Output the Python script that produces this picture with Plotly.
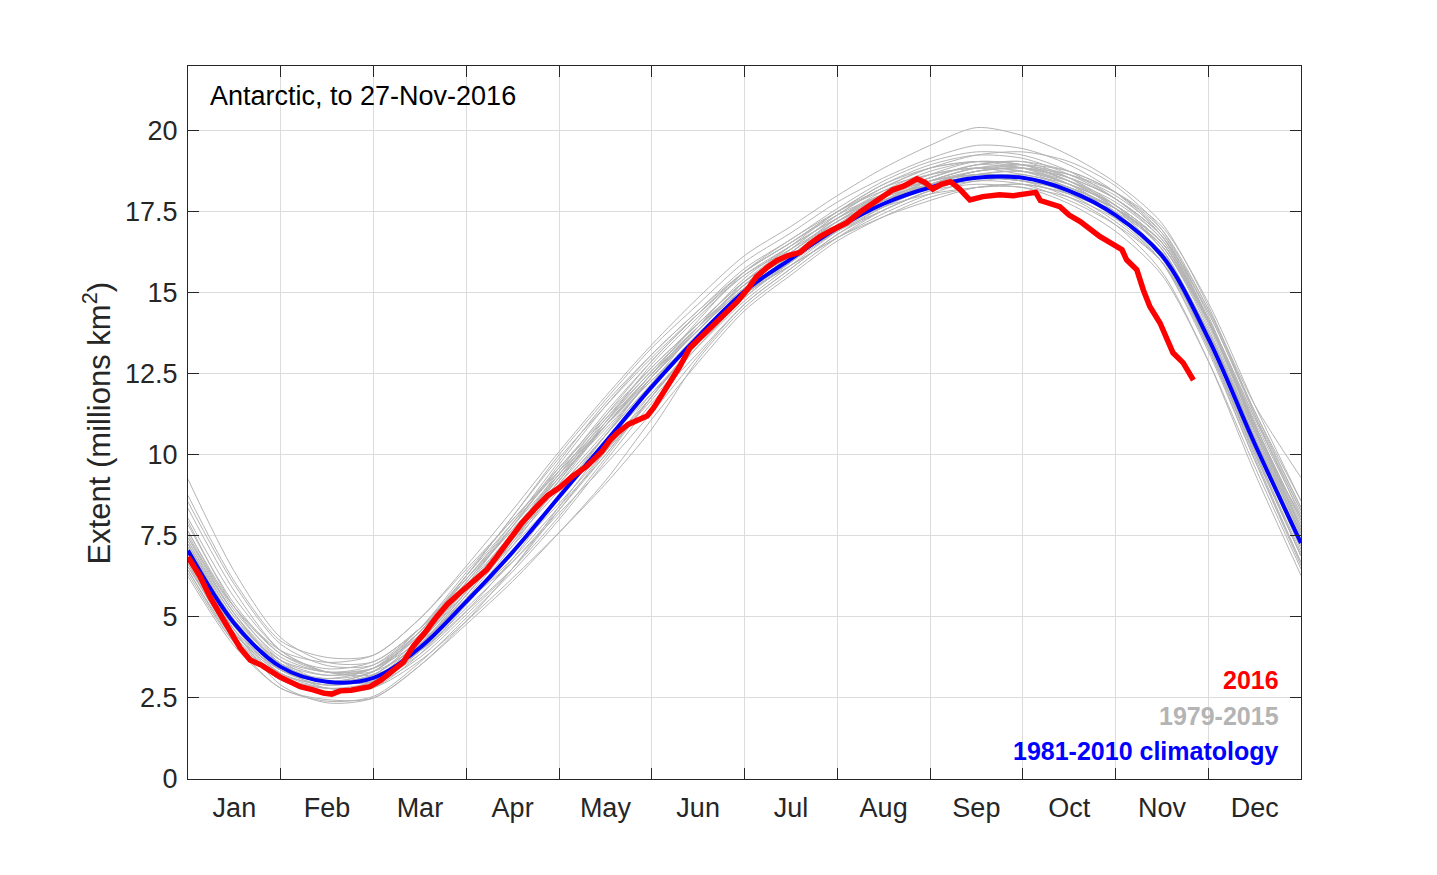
import plotly.graph_objects as go

# ---------------- data ----------------
MONTHS = ["Jan", "Feb", "Mar", "Apr", "May", "Jun", "Jul", "Aug", "Sep", "Oct", "Nov", "Dec"]
KNOT_X = [0, 0.5, 1, 1.5, 2, 2.5, 3, 3.5, 4, 4.5, 5, 5.5, 6, 6.5, 7, 7.5, 8, 8.5, 9, 9.5, 10, 10.5, 11, 11.5, 12]

CLIM_1981_2010 = [7.05, 4.8, 3.46, 3.0, 3.12, 4.05, 5.47, 7.0, 8.7, 10.4, 12.1, 13.65, 15.05, 16.05, 17.0,
                  17.75, 18.25, 18.55, 18.55, 18.15, 17.4, 16.15, 13.6, 10.35, 7.28]

GRAY_YEARS = {
    1979: [9.25, 6.4, 4.36, 3.6, 3.62, 4.65, 5.97, 7.4, 9.0, 10.6, 12.4, 13.85, 15.15, 16.05, 16.9, 17.55, 18.15, 18.35, 18.25, 17.95, 17.3, 16.25, 13.8, 10.75, 8.08],
    1980: [8.75, 6.1, 4.26, 3.75, 3.82, 4.95, 6.47, 8.0, 9.6, 11.1, 12.6, 14.05, 15.35, 16.25, 17.2, 17.85, 18.35, 18.55, 18.45, 18.15, 17.6, 16.55, 14.2, 11.05, 8.18],
    1981: [8.35, 5.8, 3.96, 3.3, 3.32, 4.15, 5.47, 6.8, 8.4, 10.0, 11.8, 13.45, 14.85, 15.95, 17.0, 17.85, 18.45, 18.85, 18.75, 18.35, 17.7, 16.55, 14.1, 10.75, 7.58],
    1982: [7.85, 5.4, 3.86, 3.3, 3.42, 4.45, 6.07, 7.8, 9.6, 11.2, 12.7, 14.05, 15.35, 16.35, 17.4, 18.25, 18.65, 18.85, 18.65, 18.35, 17.7, 16.55, 14.2, 11.15, 8.28],
    1983: [7.95, 5.3, 3.66, 3.0, 3.02, 3.85, 5.17, 6.8, 8.7, 10.6, 12.4, 13.85, 15.15, 16.05, 16.9, 17.75, 18.35, 18.75, 18.85, 18.55, 17.9, 16.75, 14.4, 11.35, 8.58],
    1984: [7.45, 5.1, 3.56, 3.0, 3.22, 4.25, 5.87, 7.6, 9.4, 10.9, 12.4, 13.85, 15.35, 16.45, 17.5, 18.35, 18.85, 19.05, 18.95, 18.65, 18.0, 16.85, 14.5, 11.55, 9.3],
    1985: [8.55, 6.0, 4.16, 3.5, 3.52, 4.55, 6.17, 7.9, 9.8, 11.6, 13.1, 14.45, 15.65, 16.55, 17.4, 18.05, 18.45, 18.75, 18.85, 18.65, 18.1, 17.05, 14.7, 11.55, 8.58],
    1986: [8.05, 5.6, 3.96, 3.3, 3.22, 3.95, 5.17, 6.5, 8.1, 9.9, 11.8, 13.55, 15.05, 16.15, 17.2, 17.95, 18.35, 18.55, 18.45, 18.15, 17.5, 16.45, 14.1, 10.95, 7.98],
    1987: [7.55, 5.1, 3.46, 2.8, 2.92, 3.95, 5.57, 7.3, 9.2, 11.0, 12.6, 13.95, 15.25, 16.15, 17.1, 17.95, 18.55, 18.95, 19.05, 18.75, 18.1, 16.95, 14.5, 11.35, 8.38],
    1988: [7.65, 5.2, 3.76, 3.3, 3.52, 4.65, 6.27, 7.9, 9.5, 11.0, 12.5, 13.95, 15.25, 16.15, 17.0, 17.65, 18.05, 18.25, 18.35, 18.05, 17.4, 16.25, 13.8, 10.55, 7.58],
    1989: [7.25, 4.8, 3.36, 2.9, 3.12, 4.25, 5.77, 7.2, 8.7, 10.2, 11.8, 13.45, 14.95, 16.05, 17.1, 17.85, 18.25, 18.45, 18.55, 18.25, 17.6, 16.45, 14.0, 10.65, 7.48],
    1990: [7.15, 4.9, 3.66, 3.3, 3.42, 4.25, 5.47, 6.7, 8.2, 9.7, 11.3, 13.05, 14.65, 15.75, 16.8, 17.55, 18.15, 18.55, 18.65, 18.25, 17.4, 16.05, 13.4, 10.05, 6.88],
    1991: [6.85, 4.7, 3.46, 3.1, 3.32, 4.45, 6.07, 7.7, 9.3, 10.8, 12.3, 13.65, 14.95, 15.85, 16.7, 17.45, 18.05, 18.45, 18.35, 17.85, 17.1, 15.95, 13.5, 10.35, 7.38],
    1992: [7.05, 4.7, 3.26, 2.8, 2.82, 3.65, 4.87, 6.2, 7.6, 9.1, 10.8, 12.95, 14.55, 15.65, 16.7, 17.55, 18.15, 18.55, 18.55, 18.25, 17.6, 16.45, 13.9, 10.55, 7.28],
    1993: [7.35, 5.0, 3.56, 3.0, 3.12, 4.15, 5.67, 7.4, 9.2, 11.0, 12.8, 14.25, 15.55, 16.45, 17.3, 18.05, 18.65, 19.05, 18.95, 18.45, 17.6, 16.35, 13.7, 10.35, 7.08],
    1994: [6.75, 4.5, 3.26, 2.9, 3.12, 4.15, 5.57, 7.0, 8.5, 10.1, 11.7, 13.35, 14.85, 15.95, 17.0, 17.85, 18.45, 18.85, 18.85, 18.35, 17.4, 15.95, 13.2, 9.85, 6.68],
    1995: [6.55, 4.5, 3.36, 3.0, 3.32, 4.55, 6.27, 8.1, 9.9, 11.5, 13.0, 14.35, 15.55, 16.35, 17.2, 17.85, 18.35, 18.75, 18.85, 18.45, 17.7, 16.35, 13.7, 10.35, 7.18],
    1996: [6.65, 4.3, 3.06, 2.7, 2.82, 3.85, 5.37, 7.0, 8.8, 10.6, 12.2, 13.65, 14.95, 15.85, 16.7, 17.35, 17.85, 18.25, 18.35, 18.05, 17.4, 16.25, 13.8, 10.55, 7.38],
    1997: [7.05, 4.6, 2.9, 2.35, 2.5, 3.5, 4.77, 6.1, 7.6, 9.2, 11.1, 12.85, 14.45, 15.55, 16.6, 17.35, 17.95, 18.25, 18.25, 17.75, 16.9, 15.55, 12.9, 9.65, 6.48],
    1998: [6.45, 4.3, 3.06, 2.7, 2.92, 4.05, 5.67, 7.3, 8.9, 10.4, 11.9, 13.35, 14.75, 15.85, 16.9, 17.75, 18.35, 18.65, 18.55, 18.05, 17.2, 15.95, 13.5, 10.35, 7.38],
    1999: [6.85, 4.7, 3.46, 3.0, 3.22, 4.35, 5.87, 7.4, 9.0, 10.6, 12.2, 13.75, 15.05, 15.95, 16.9, 17.65, 18.25, 18.65, 18.75, 18.35, 17.5, 16.15, 13.4, 9.95, 6.68],
    2000: [6.35, 4.2, 3.06, 2.7, 3.02, 4.15, 5.77, 7.5, 9.3, 11.1, 12.7, 14.05, 15.35, 16.25, 17.3, 18.15, 18.75, 19.05, 18.95, 18.45, 17.6, 16.15, 13.3, 9.85, 6.58],
    2001: [6.55, 4.4, 3.16, 2.8, 2.92, 3.75, 5.07, 6.5, 8.3, 10.1, 11.9, 13.45, 14.95, 16.05, 17.1, 17.95, 18.45, 18.65, 18.55, 18.15, 17.3, 15.95, 13.3, 10.05, 6.88],
    2002: [6.25, 4.1, 2.8, 2.4, 2.55, 3.6, 4.97, 6.4, 8.0, 9.8, 11.6, 13.15, 14.65, 15.75, 16.8, 17.65, 18.25, 18.55, 18.45, 17.95, 17.1, 15.65, 12.9, 9.45, 6.28],
    2003: [6.75, 4.4, 3.06, 2.7, 2.92, 4.05, 5.67, 7.4, 9.2, 10.9, 12.5, 13.95, 15.25, 16.25, 17.3, 18.05, 18.45, 18.65, 18.75, 18.45, 17.8, 16.65, 14.2, 10.95, 7.78],
    2004: [6.85, 4.6, 3.36, 3.0, 3.12, 3.95, 5.27, 6.7, 8.3, 10.0, 11.8, 13.55, 15.05, 16.15, 17.2, 18.05, 18.65, 18.85, 18.75, 18.25, 17.6, 16.45, 14.1, 10.95, 7.98],
    2005: [6.95, 4.8, 3.56, 3.2, 3.42, 4.55, 6.17, 7.8, 9.4, 10.9, 12.5, 14.15, 15.65, 16.65, 17.5, 18.15, 18.55, 18.95, 19.05, 18.55, 17.6, 16.15, 13.4, 10.15, 6.98],
    2006: [6.45, 4.2, 2.8, 2.45, 2.5, 3.5, 4.87, 6.5, 8.4, 10.3, 12.2, 13.95, 15.45, 16.45, 17.3, 17.95, 18.35, 18.75, 18.95, 18.75, 18.1, 16.85, 14.2, 10.75, 7.48],
    2007: [6.65, 4.5, 3.26, 2.9, 3.12, 4.15, 5.77, 7.6, 9.5, 11.3, 12.9, 14.35, 15.65, 16.55, 17.5, 18.25, 18.85, 19.25, 19.35, 19.05, 18.3, 16.95, 14.3, 10.85, 7.58],
    2008: [6.95, 4.6, 3.36, 3.1, 3.42, 4.65, 6.37, 8.0, 9.5, 10.9, 12.3, 13.65, 14.95, 15.95, 17.0, 17.75, 18.35, 18.55, 18.45, 18.15, 17.6, 16.55, 14.2, 11.15, 8.28],
    2009: [7.25, 4.9, 3.46, 3.0, 3.22, 4.35, 5.87, 7.5, 9.1, 10.7, 12.4, 13.95, 15.25, 16.15, 17.1, 17.95, 18.55, 18.95, 18.85, 18.55, 17.9, 16.75, 14.2, 10.85, 7.78],
    2010: [7.35, 5.1, 3.66, 3.2, 3.42, 4.45, 5.97, 7.6, 9.4, 11.2, 12.9, 14.35, 15.65, 16.55, 17.5, 18.35, 18.95, 19.25, 19.15, 18.65, 17.9, 16.75, 14.4, 11.25, 8.38],
    2011: [7.25, 5.0, 3.56, 3.0, 3.02, 3.95, 5.47, 7.2, 9.1, 10.9, 12.5, 13.85, 15.15, 16.05, 17.0, 17.85, 18.45, 18.85, 18.95, 18.55, 17.7, 16.35, 13.6, 10.15, 6.88],
    2012: [6.75, 4.5, 3.16, 2.8, 3.02, 4.25, 5.97, 7.8, 9.7, 11.5, 13.1, 14.45, 15.75, 16.65, 17.6, 18.45, 19.05, 19.35, 19.25, 18.75, 17.9, 16.65, 14.2, 10.95, 7.88],
    2013: [7.15, 4.8, 3.36, 3.0, 3.32, 4.55, 6.27, 8.1, 10.0, 11.7, 13.3, 14.65, 15.95, 16.85, 17.8, 18.55, 19.15, 19.55, 19.45, 18.95, 18.1, 16.75, 14.1, 10.85, 7.68],
    2014: [7.45, 5.3, 3.96, 3.6, 3.82, 4.95, 6.57, 8.3, 10.1, 11.8, 13.4, 14.85, 16.15, 17.05, 18.0, 18.85, 19.55, 20.1, 19.85, 19.25, 18.4, 17.15, 14.6, 11.25, 8.08],
    2015: [7.65, 5.3, 3.86, 3.4, 3.62, 4.65, 6.17, 7.7, 9.3, 10.9, 12.4, 13.85, 15.25, 16.35, 17.4, 18.25, 18.85, 19.05, 18.85, 18.35, 17.7, 16.55, 14.1, 10.95, 7.68],
}

Y2016_X = [0.0, 0.13, 0.24, 0.35, 0.45, 0.56, 0.67, 0.8, 0.99, 1.1, 1.21, 1.35, 1.46, 1.55, 1.64, 1.76, 1.89,
           1.96, 2.08, 2.2, 2.32, 2.43, 2.55, 2.68, 2.8, 2.93, 3.06, 3.22, 3.34, 3.47, 3.6, 3.76, 3.88,
           4.01, 4.15, 4.3, 4.37, 4.46, 4.55, 4.63, 4.75, 4.84, 4.95, 5.02, 5.09, 5.2, 5.3, 5.41, 5.52,
           5.63, 5.78, 5.92, 6.03, 6.13, 6.25, 6.35, 6.47, 6.6, 6.7, 6.81, 6.95, 7.1, 7.25, 7.42, 7.6,
           7.72, 7.86, 7.95, 8.03, 8.12, 8.22, 8.32, 8.43, 8.57, 8.75, 8.9, 9.08, 9.14, 9.19, 9.3, 9.4,
           9.5, 9.62, 9.83, 9.98, 10.07, 10.12, 10.23, 10.3, 10.37, 10.48, 10.55, 10.62, 10.73, 10.8, 10.84]
Y2016_V = [6.85, 6.25, 5.6, 5.05, 4.6, 4.05, 3.67, 3.5, 3.15, 3.0, 2.85, 2.75, 2.65, 2.62, 2.72, 2.74, 2.8,
           2.85, 3.05, 3.3, 3.6, 4.1, 4.5, 5.0, 5.4, 5.74, 6.05, 6.45, 6.9, 7.38, 7.9, 8.4, 8.75,
           9.0, 9.35, 9.65, 9.85, 10.1, 10.45, 10.68, 10.95, 11.08, 11.2, 11.45, 11.75, 12.25, 12.72, 13.3, 13.6,
           13.9, 14.35, 14.72, 15.1, 15.5, 15.8, 16.0, 16.15, 16.25, 16.5, 16.73, 16.95, 17.16, 17.5, 17.85, 18.18,
           18.3, 18.52, 18.4, 18.2, 18.35, 18.43, 18.2, 17.87, 17.97, 18.03, 18.0, 18.1, 18.1, 17.85, 17.75, 17.66,
           17.4, 17.2, 16.74, 16.48, 16.33, 16.02, 15.71, 15.09, 14.58, 14.07, 13.65, 13.15, 12.84, 12.53, 12.31]

Y_TICKS = [0, 2.5, 5, 7.5, 10, 12.5, 15, 17.5, 20]
Y_TICK_TEXT = ["0", "2.5", "5", "7.5", "10", "12.5", "15", "17.5", "20"]

# ---------------- figure ----------------
FONT = "Liberation Sans, Arial, sans-serif"
TXT = "#262626"
fig = go.Figure()

for yr, vals in GRAY_YEARS.items():
    fig.add_trace(go.Scatter(x=KNOT_X, y=vals, mode="lines",
                             line=dict(color="#b4b4b4", width=1, shape="spline", smoothing=0.8),
                             hoverinfo="skip", name=str(yr), showlegend=False))

fig.add_trace(go.Scatter(x=KNOT_X, y=CLIM_1981_2010, mode="lines",
                         line=dict(color="#0000ff", width=4, shape="spline", smoothing=1.0),
                         name="1981-2010 climatology", showlegend=False))

fig.add_trace(go.Scatter(x=Y2016_X, y=Y2016_V, mode="lines",
                         line=dict(color="#ff0000", width=5.5),
                         name="2016", showlegend=False))

fig.update_layout(
    width=1437, height=875,
    margin=dict(l=180, r=144, t=58, b=104, pad=0),
    paper_bgcolor="white", plot_bgcolor="white",
    font=dict(family=FONT, size=27, color=TXT),
    xaxis=dict(range=[0, 12], tickvals=[m + 0.5 for m in range(12)], ticktext=MONTHS,
               ticks="", showgrid=False, zeroline=False,
               showline=True, linecolor=TXT, linewidth=1, mirror="ticks",
               tickfont=dict(size=27, color=TXT), ticklabelstandoff=5,
               minor=dict(tickvals=list(range(1, 12)), ticks="inside", ticklen=11,
                          tickcolor=TXT, tickwidth=1, showgrid=True,
                          gridcolor="#dcdcdc", gridwidth=1)),
    yaxis=dict(range=[0, 22], tickvals=Y_TICKS, ticktext=Y_TICK_TEXT,
               ticks="inside", ticklen=11, tickcolor=TXT, tickwidth=1,
               showgrid=True, gridcolor="#dcdcdc", gridwidth=1, zeroline=False,
               showline=True, linecolor=TXT, linewidth=1, mirror="ticks",
               tickfont=dict(size=27, color=TXT), ticklabelstandoff=4),
    annotations=[
        dict(x=-0.0818, y=11.0, xref="paper", yref="y", text="Extent (millions km<sup>2</sup>)",
             showarrow=False, textangle=-90, xanchor="center", yanchor="middle",
             font=dict(size=31, color=TXT, family=FONT)),
        dict(x=0.216, y=21.08, xref="x", yref="y", text="Antarctic, to 27-Nov-2016",
             showarrow=False, xanchor="left", yanchor="middle",
             font=dict(size=27, color="#000000", family=FONT)),
        dict(x=11.78, y=3.06, xref="x", yref="y", text="<b>2016</b>", showarrow=False,
             xanchor="right", yanchor="middle", font=dict(size=25, color="#ff0000", family=FONT)),
        dict(x=11.78, y=1.94, xref="x", yref="y", text="<b>1979-2015</b>", showarrow=False,
             xanchor="right", yanchor="middle", font=dict(size=25, color="#b4b4b4", family=FONT)),
        dict(x=11.78, y=0.86, xref="x", yref="y", text="<b>1981-2010 climatology</b>", showarrow=False,
             xanchor="right", yanchor="middle", font=dict(size=25, color="#0000ff", family=FONT)),
    ],
)

fig.write_html("out.html")
